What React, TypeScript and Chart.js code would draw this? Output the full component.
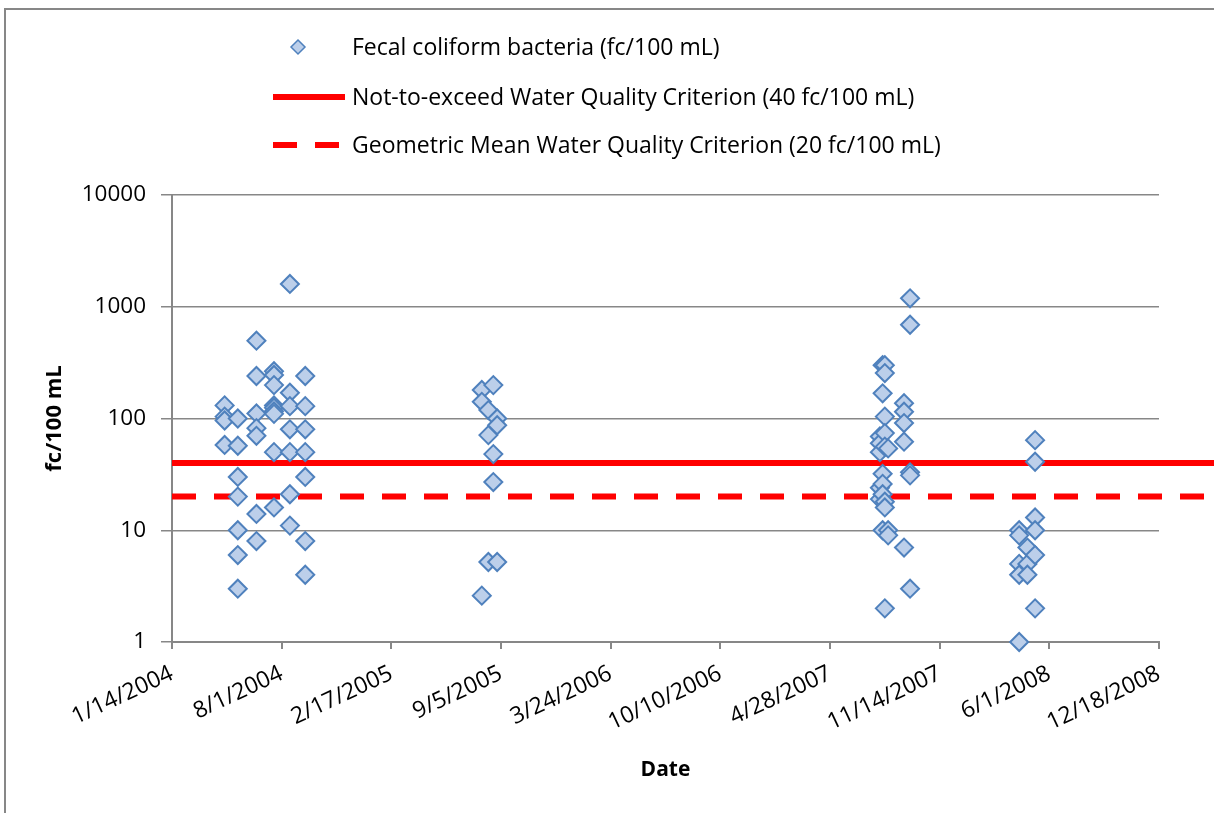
import React, { useEffect, useRef } from "react";
import { Chart, registerables } from "chart.js";

Chart.register(...registerables);

// ---- data ----
const sampleDates: string[] = [
  "4/19/2004", "4/19/2004", "4/19/2004", "4/19/2004",
  "5/13/2004", "5/13/2004", "5/13/2004", "5/13/2004", "5/13/2004", "5/13/2004", "5/13/2004",
  "6/16/2004", "6/16/2004", "6/16/2004", "6/16/2004", "6/16/2004", "6/16/2004", "6/16/2004",
  "7/18/2004", "7/18/2004", "7/18/2004", "7/18/2004", "7/18/2004", "7/18/2004", "7/18/2004", "7/18/2004", "7/18/2004",
  "8/16/2004", "8/16/2004", "8/16/2004", "8/16/2004", "8/16/2004", "8/16/2004", "8/16/2004",
  "9/13/2004", "9/13/2004", "9/13/2004", "9/13/2004", "9/13/2004", "9/13/2004", "9/13/2004",
  "8/1/2005", "8/1/2005", "8/1/2005",
  "8/13/2005", "8/13/2005", "8/13/2005",
  "8/22/2005", "8/22/2005", "8/22/2005",
  "8/29/2005", "8/29/2005", "8/29/2005",
  "7/28/2007", "7/28/2007", "7/28/2007", "7/28/2007", "7/28/2007",
  "8/2/2007", "8/2/2007", "8/2/2007", "8/2/2007", "8/2/2007", "8/2/2007",
  "8/6/2007", "8/6/2007", "8/6/2007", "8/6/2007", "8/6/2007", "8/6/2007", "8/6/2007", "8/6/2007",
  "8/12/2007", "8/12/2007", "8/12/2007",
  "9/10/2007", "9/10/2007", "9/10/2007", "9/10/2007", "9/10/2007",
  "9/21/2007", "9/21/2007", "9/21/2007", "9/21/2007", "9/21/2007",
  "4/7/2008", "4/7/2008", "4/7/2008", "4/7/2008", "4/7/2008",
  "4/22/2008", "4/22/2008", "4/22/2008",
  "5/6/2008", "5/6/2008", "5/6/2008", "5/6/2008", "5/6/2008", "5/6/2008",
];

const fecalColiform: number[] = [
  131, 104, 96, 58,
  100, 57, 30, 20, 10, 6, 3,
  497, 240, 111, 82, 70, 14, 8,
  265, 245, 199, 131, 125, 116, 110, 50, 16,
  1600, 170, 129, 80, 50, 21, 11,
  240, 129, 80, 50, 30, 8, 4,
  180, 141, 2.6,
  119, 71, 5.2,
  199, 48, 27,
  100, 87, 5.2,
  69, 60, 50, 24, 19,
  300, 168, 32, 26, 21, 10,
  300, 255, 104, 74, 56, 18, 16, 2,
  54, 10, 9,
  137, 115, 91, 62, 7,
  1190, 690, 33, 31, 3,
  10, 9, 5, 4, 1,
  7, 5, 4,
  64, 41, 13, 10, 6, 2,
];

const criterionDates: string[] = ["1/14/2004", "4/30/2009"];
const notToExceedValue = 40;
const geometricMeanValue = 20;

const xTickLabels: string[] = [
  "1/14/2004", "8/1/2004", "2/17/2005", "9/5/2005", "3/24/2006",
  "10/10/2006", "4/28/2007", "11/14/2007", "6/1/2008", "12/18/2008",
];
const yTickValues: number[] = [1, 10, 100, 1000, 10000];

const seriesLabels: string[] = [
  "Fecal coliform bacteria (fc/100 mL)",
  "Not-to-exceed Water Quality Criterion (40 fc/100 mL)",
  "Geometric Mean Water Quality Criterion (20 fc/100 mL)",
];

// ---- helpers ----
const DAY = 86400000;
function toDay(s: string): number {
  const [m, d, y] = s.split("/").map(Number);
  return Math.round(Date.UTC(y, m - 1, d) / DAY);
}
function fromDay(v: number): string {
  const dt = new Date(v * DAY);
  return `${dt.getUTCMonth() + 1}/${dt.getUTCDate()}/${dt.getUTCFullYear()}`;
}

const FONT = "'Open Sans', Lato, sans-serif";
const BLUE = "#4f81bd";
const FILL = "#bccfea";
const RED = "#ff0000";
const GRAY = "#878787";

const framePlugin = {
  id: "frame",
  beforeDraw(chart: any) {
    const ctx = chart.ctx;
    ctx.save();
    ctx.fillStyle = "#fff";
    ctx.fillRect(0, 0, chart.width, chart.height);
    ctx.strokeStyle = GRAY;
    ctx.lineWidth = 2;
    ctx.beginPath();
    ctx.moveTo(5, chart.height + 2);
    ctx.lineTo(5, 9);
    ctx.lineTo(chart.width + 2, 9);
    ctx.stroke();
    ctx.restore();
  },
};

const legendPlugin = {
  id: "customLegend",
  afterDraw(chart: any) {
    const ctx = chart.ctx;
    ctx.save();
    ctx.font = `23px ${FONT}`;
    ctx.textBaseline = "middle";
    ctx.textAlign = "left";
    const rows = [47, 97, 145];
    const textX = 352;
    // diamond
    const dx = 298, dy = rows[0], r = 7;
    ctx.beginPath();
    ctx.moveTo(dx, dy - r);
    ctx.lineTo(dx + r, dy);
    ctx.lineTo(dx, dy + r);
    ctx.lineTo(dx - r, dy);
    ctx.closePath();
    ctx.fillStyle = FILL;
    ctx.fill();
    ctx.strokeStyle = BLUE;
    ctx.lineWidth = 1.5;
    ctx.stroke();
    // solid
    ctx.strokeStyle = RED;
    ctx.lineWidth = 6;
    ctx.setLineDash([]);
    ctx.beginPath();
    ctx.moveTo(273, rows[1]);
    ctx.lineTo(345, rows[1]);
    ctx.stroke();
    // dashed
    ctx.setLineDash([24, 18]);
    ctx.beginPath();
    ctx.moveTo(273, rows[2]);
    ctx.lineTo(345, rows[2]);
    ctx.stroke();
    ctx.setLineDash([]);
    ctx.fillStyle = "#000";
    seriesLabels.forEach((t, i) => ctx.fillText(t, textX, rows[i] + 1));
    ctx.restore();
  },
};

export default function App() {
  const ref = useRef<HTMLCanvasElement>(null);

  useEffect(() => {
    if (!ref.current) return;
    const points = sampleDates.map((d, i) => ({ x: toDay(d), y: fecalColiform[i] }));
    const critX = criterionDates.map(toDay);
    const tickDays = xTickLabels.map(toDay);

    const chart = new Chart(ref.current, {
      type: "scatter",
      data: {
        datasets: [
          {
            label: seriesLabels[0],
            data: points,
            pointStyle: "rectRot",
            pointRadius: 9,
            pointBorderWidth: 2,
            pointBackgroundColor: FILL,
            pointBorderColor: BLUE,
            showLine: false,
            clip: false as any,
          },
          {
            type: "line",
            label: seriesLabels[1],
            data: critX.map((x) => ({ x, y: notToExceedValue })),
            borderColor: RED,
            borderWidth: 6,
            pointRadius: 0,
            showLine: true,
            clip: false as any,
          },
          {
            type: "line",
            label: seriesLabels[2],
            data: critX.map((x) => ({ x, y: geometricMeanValue })),
            borderColor: RED,
            borderWidth: 6,
            borderDash: [24, 18],
            pointRadius: 0,
            showLine: true,
            clip: false as any,
          },
        ] as any,
      },
      options: {
        animation: false,
        responsive: false,
        layout: { padding: { top: 195, right: 55, left: 0, bottom: 0 } },
        plugins: { legend: { display: false }, tooltip: { enabled: false } },
        scales: {
          x: {
            type: "linear",
            min: tickDays[0],
            max: tickDays[tickDays.length - 1],
            afterBuildTicks: (s: any) => {
              s.ticks = tickDays.map((v) => ({ value: v }));
            },
            afterFit: (s: any) => {
              s.height = 171;
            },
            ticks: {
              autoSkip: false,
              minRotation: 25,
              maxRotation: 25,
              padding: 11,
              color: "#000",
              font: { family: FONT, size: 23 },
              callback: (v: any) => fromDay(Number(v)),
            },
            grid: {
              drawOnChartArea: false,
              drawTicks: true,
              tickLength: 7,
              color: GRAY,
              lineWidth: 2,
            },
            border: { color: GRAY, width: 2 },
            title: {
              display: true,
              text: "Date",
              color: "#000",
              font: { family: FONT, size: 21, weight: "bold" },
              padding: { top: 0, bottom: 30 },
            },
          },
          y: {
            type: "logarithmic",
            min: yTickValues[0],
            max: yTickValues[yTickValues.length - 1],
            afterBuildTicks: (s: any) => {
              s.ticks = yTickValues.map((v) => ({ value: v }));
            },
            afterFit: (s: any) => {
              s.width = 172;
            },
            ticks: {
              padding: 15,
              color: "#000",
              font: { family: FONT, size: 22.5 },
              callback: (v: any) => String(v),
            },
            grid: {
              drawTicks: true,
              tickLength: 11,
              color: GRAY,
              lineWidth: 1.5,
            },
            border: { color: GRAY, width: 2 },
            title: {
              display: true,
              text: "fc/100 mL",
              color: "#000",
              font: { family: FONT, size: 22, weight: "bold" },
              padding: { top: 42, bottom: 0 },
            },
          },
        },
      } as any,
      plugins: [framePlugin, legendPlugin],
    });
    return () => chart.destroy();
  }, []);

  return (
    <div style={{ position: "absolute", left: 0, top: 0, width: 1214, height: 813 }}>
      <canvas ref={ref} width={1214} height={813} />
    </div>
  );
}
